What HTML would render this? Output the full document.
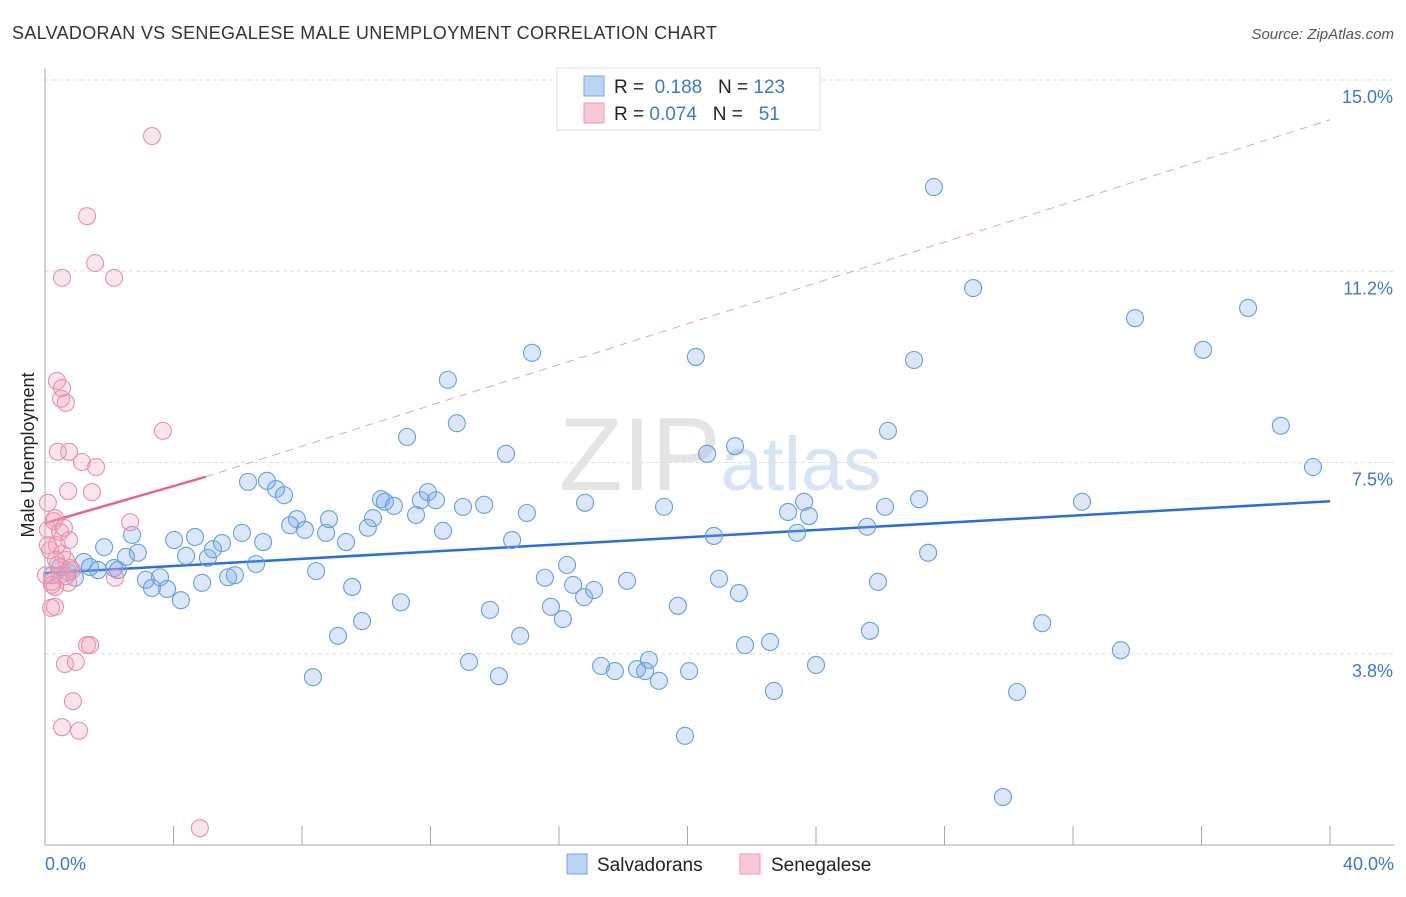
<!DOCTYPE html>
<html><head><meta charset="utf-8"><style>
body{margin:0;background:#fff;font-family:"Liberation Sans",sans-serif}
svg text{font-family:"Liberation Sans",sans-serif}
</style></head><body>
<svg id="chart" width="1406" height="892">
<text x="12" y="39" font-size="18" fill="#333" textLength="705">SALVADORAN VS SENEGALESE MALE UNEMPLOYMENT CORRELATION CHART</text>
<text x="1394" y="39" font-size="15" fill="#555" text-anchor="end" font-style="italic">Source: ZipAtlas.com</text>
<text x="720" y="490" font-size="104" fill="#e4e4e4" text-anchor="middle" font-family="Liberation Serif">ZIP<tspan fill="#d6e4f4" font-family="Liberation Sans" font-size="76">atlas</tspan></text>
<g id="grid"></g>
<line x1="45" y1="68" x2="45" y2="845" stroke="#aaa"/>
<line x1="45" y1="845" x2="1394" y2="845" stroke="#aaa"/>
<text transform="translate(34,455) rotate(-90)" font-size="18" fill="#222" text-anchor="middle">Male Unemployment</text>
<text x="45" y="870" font-size="18" fill="#3a78d4">0.0%</text>
<text x="1394" y="870" font-size="18" fill="#3a78d4" text-anchor="end">40.0%</text>
<g id="lines"></g>
<g id="pts"></g>
<g>
<rect x="557" y="68" width="263" height="62" fill="#fff" stroke="#ddd"/>
<rect x="584" y="76" width="20" height="20" fill="#bcd4f4" stroke="#7aa6e4"/>
<rect x="584" y="103" width="20" height="20" fill="#f8c8d8" stroke="#ec98b4"/>
<text x="614" y="93" font-size="19" fill="#222">R = <tspan fill="#3a78d4">&#160;0.188</tspan>&#160;&#160;&#160;N = <tspan fill="#3a78d4">123</tspan></text>
<text x="614" y="120" font-size="19" fill="#222">R = <tspan fill="#3a78d4">0.074</tspan>&#160;&#160;&#160;N = <tspan fill="#3a78d4">&#160;&#160;51</tspan></text>
</g>
<g>
<rect x="567" y="854" width="20" height="20" fill="#bcd4f4" stroke="#7aa6e4"/>
<text x="597" y="871" font-size="19" fill="#222">Salvadorans</text>
<rect x="740" y="854" width="20" height="20" fill="#f8c8d8" stroke="#ec98b4"/>
<text x="771" y="871" font-size="19" fill="#222">Senegalese</text>
</g>
</svg>
<script>
const yTicks=[3.75,7.5,11.25,15];
const yTickLabels=["3.8%","7.5%","11.2%","15.0%"];
const xTicks=[0,4,8,12,16,20,24,28,32,36,40];
const blueTrend=[[0,5.33],[40,6.74]];
const pinkTrend=[[0,6.31],[5,7.22],[40,14.22]];
const bluePx=[[52,575],[60,567],[68,572],[75,578],[84,562],[90,567],[98,570],[104,547],[114,568],[118,570],[126,557],[132,535],[138,553],[146,580],[152,588],[160,577],[167,589],[174,540],[181,600],[186,556],[195,537],[202,583],[208,558],[213,549],[222,543],[228,577],[235,575],[242,533],[248,482],[256,564],[263,542],[267,481],[276,489],[284,495],[290,525],[297,519],[305,530],[316,571],[313,677],[326,533],[329,519],[338,636],[346,542],[352,587],[362,621],[368,528],[373,518],[381,499],[385,502],[394,506],[401,602],[407,437],[416,515],[421,500],[428,492],[436,500],[443,531],[448,380],[457,423],[463,507],[469,662],[484,505],[490,610],[499,676],[506,454],[512,540],[520,636],[527,513],[532,353],[545,578],[551,607],[563,619],[567,565],[573,585],[584,597],[594,590],[585,503],[601,666],[615,671],[627,581],[637,669],[645,671],[649,660],[659,681],[664,507],[678,606],[685,736],[689,671],[696,357],[707,454],[714,536],[719,579],[735,446],[739,593],[745,645],[770,642],[774,691],[788,512],[797,533],[804,502],[809,516],[816,665],[867,527],[870,631],[878,582],[885,507],[888,431],[914,360],[919,499],[928,553],[934,187],[973,288],[1017,692],[1042,623],[1082,502],[1121,650],[1135,318],[1203,350],[1248,308],[1281,426],[1313,467],[1003,797]];
const pinkPx=[[152,136],[87,216],[95,263],[62,278],[114,278],[57,381],[62,388],[61,399],[66,403],[163,431],[58,452],[69,452],[82,462],[96,467],[68,491],[92,492],[48,503],[55,518],[130,522],[48,530],[60,532],[69,540],[50,550],[62,554],[57,545],[66,560],[60,575],[68,583],[55,587],[115,578],[51,608],[55,607],[87,645],[90,645],[65,664],[76,662],[73,701],[62,727],[79,731],[200,828],[52,585],[58,565],[70,568],[48,545],[54,521],[64,528],[56,560],[72,570],[52,582],[46,575],[66,576]];
const X=v=>45+v*32.125, Y=v=>845-v*51.0;
const Xi=p=>(p-45)/32.125, Yi=p=>(845-p)/51.0;
const blueX=bluePx.map(p=>+Xi(p[0]).toFixed(2)), blueY=bluePx.map(p=>+Yi(p[1]).toFixed(2));
const pinkX=pinkPx.map(p=>+Xi(p[0]).toFixed(2)), pinkY=pinkPx.map(p=>+Yi(p[1]).toFixed(2));
const NS="http://www.w3.org/2000/svg";
function mk(t,a,par){const e=document.createElementNS(NS,t);for(const k in a)e.setAttribute(k,a[k]);document.getElementById(par).appendChild(e);return e;}
mk('line',{x1:45,y1:80,x2:1394,y2:80,stroke:'#ddd','stroke-dasharray':'4,3'},'grid');
yTicks.forEach((v,i)=>{
 const g=mk('line',{x1:45,y1:Y(v),x2:1394,y2:Y(v),stroke:'#ddd','stroke-dasharray':'4,3'},'grid');
 
 
 const t=mk('text',{x:1393,y:Y(v)+23,'font-size':18,fill:'#3a78d4','text-anchor':'end'},'grid');
 t.textContent=yTickLabels[i];
 
 
});
xTicks.forEach(v=>{
 const l=mk('line',{x1:X(v),y1:826,x2:X(v),y2:845,stroke:'#aaa'},'grid');
 
 
});
blueX.forEach((v,i)=>{
 const c=mk('circle',{cx:X(v),cy:Y(blueY[i]),r:8.5,fill:'rgba(120,170,235,0.28)',stroke:'#6a9ee0','stroke-width':1.1},'pts');
 
 
});
pinkX.forEach((v,i)=>{
 const c=mk('circle',{cx:X(v),cy:Y(pinkY[i]),r:8.5,fill:'rgba(240,160,188,0.28)',stroke:'#e890ac','stroke-width':1.1},'pts');
 
 
});
const bl=mk('line',{x1:X(blueTrend[0][0]),y1:Y(blueTrend[0][1]),x2:X(blueTrend[1][0]),y2:Y(blueTrend[1][1]),stroke:'#2a6fd6','stroke-width':2.5},'lines');


const pl=mk('line',{x1:X(pinkTrend[0][0]),y1:Y(pinkTrend[0][1]),x2:X(pinkTrend[1][0]),y2:Y(pinkTrend[1][1]),stroke:'#e8628c','stroke-width':2.5},'lines');


const pd=mk('line',{x1:X(pinkTrend[1][0]),y1:Y(pinkTrend[1][1]),x2:X(pinkTrend[2][0]),y2:Y(pinkTrend[2][1]),stroke:'#eaa0b8','stroke-width':1,'stroke-dasharray':'8,6'},'lines');


</script>
</body></html>
